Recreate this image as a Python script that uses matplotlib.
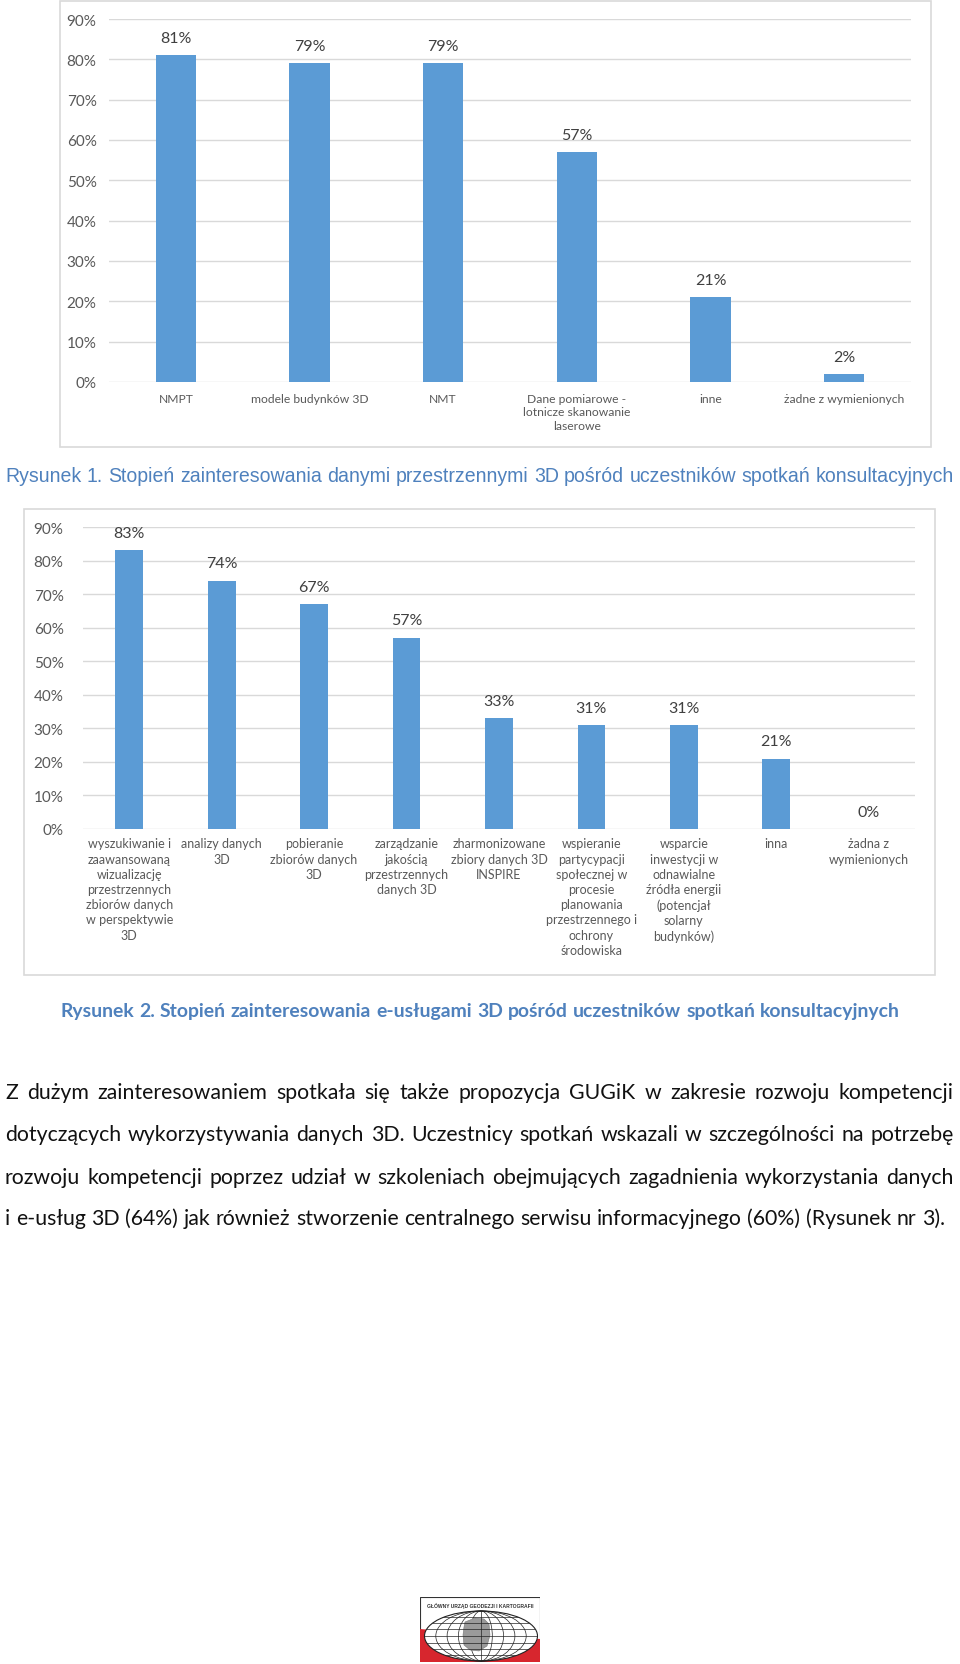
import matplotlib
matplotlib.use("Agg")
import matplotlib.pyplot as plt
from matplotlib.patches import Rectangle, Ellipse, Polygon
import numpy as np

W, H = 960, 1665

# data: chart 1
cats1 = ["NMPT", "modele budynków 3D", "NMT",
         "Dane pomiarowe -\nlotnicze skanowanie\nlaserowe",
         "inne", "żadne z wymienionych"]
vals1 = [0.81, 0.79, 0.79, 0.57, 0.21, 0.02]

# data: chart 2
cats2 = ["wyszukiwanie i\nzaawansowaną\nwizualizację\nprzestrzennych\nzbiorów danych\nw perspektywie\n3D",
         "analizy danych\n3D",
         "pobieranie\nzbiorów danych\n3D",
         "zarządzanie\njakością\nprzestrzennych\ndanych 3D",
         "zharmonizowane\nzbiory danych 3D\nINSPIRE",
         "wspieranie\npartycypacji\nspołecznej w\nprocesie\nplanowania\nprzestrzennego i\nochrony\nśrodowiska",
         "wsparcie\ninwestycji w\nodnawialne\nźródła energii\n(potencjał\nsolarny\nbudynków)",
         "inna",
         "żadna z\nwymienionych"]
vals2 = [0.83, 0.74, 0.67, 0.57, 0.33, 0.31, 0.31, 0.21, 0.0]

yticks = [0.0, 0.1, 0.2, 0.3, 0.4, 0.5, 0.6, 0.7, 0.8, 0.9]
ytick_labels = ["0%", "10%", "20%", "30%", "40%", "50%", "60%", "70%", "80%", "90%"]

caption1 = "Rysunek 1. Stopień zainteresowania danymi przestrzennymi 3D pośród uczestników spotkań konsultacyjnych"
caption2 = "Rysunek 2. Stopień zainteresowania e-usługami 3D pośród uczestników spotkań konsultacyjnych"
paragraph = [
    "Z dużym zainteresowaniem spotkała się także propozycja GUGiK w zakresie rozwoju kompetencji",
    "dotyczących wykorzystywania danych 3D. Uczestnicy spotkań wskazali w szczególności na potrzebę",
    "rozwoju kompetencji poprzez udział w szkoleniach obejmujących zagadnienia wykorzystania danych",
    "i e-usług 3D (64%) jak również stworzenie centralnego serwisu informacyjnego (60%) (Rysunek nr 3).",
]
logo_text = "GŁÓWNY URZĄD GEODEZJI I KARTOGRAFII"

BAR = "#5B9BD5"
GRID = "#D9D9D9"
TICK = "#595959"
LABEL = "#404040"
BLUE = "#4F81BD"
FONT = ["Lato", "DejaVu Sans"]

fig = plt.figure(figsize=(W / 100, H / 100), dpi=100)
fig.patch.set_facecolor("white")
r = fig.canvas.get_renderer()


def box(x0, y0, x1, y1):
    return [x0 / W, 1 - y1 / H, (x1 - x0) / W, (y1 - y0) / H]


def frame(x0, y0, x1, y1):
    fig.add_artist(Rectangle((x0 / W, 1 - y1 / H), (x1 - x0) / W, (y1 - y0) / H,
                             transform=fig.transFigure, fill=False, ec=GRID, lw=1.2))


def bar_chart(rect, cats, vals, ypad, cat_size, cat_ls, xpad):
    ax = fig.add_axes(box(*rect))
    x = np.arange(len(cats))
    ax.bar(x, vals, width=0.3, color=BAR, zorder=3)
    ax.set_xlim(-0.5, len(cats) - 0.5)
    ax.set_ylim(0, 0.9)
    ax.set_yticks(yticks)
    ax.set_yticklabels(ytick_labels, family=FONT, fontsize=11, color=TICK)
    ax.yaxis.grid(True, color=GRID, lw=1, zorder=0)
    for sp in ax.spines.values():
        sp.set_visible(False)
    ax.set_xticks(x)
    ax.set_xticklabels(cats, family=FONT, fontsize=cat_size, color=TICK,
                       linespacing=cat_ls, va="top")
    ax.tick_params(axis="both", length=0)
    ax.tick_params(axis="y", pad=ypad)
    ax.tick_params(axis="x", pad=xpad)
    for xi, v in zip(x, vals):
        ax.annotate(f"{v * 100:.0f}%", (xi, v), xytext=(0, 12.5), textcoords="offset points",
                    ha="center", va="center", family=FONT, fontsize=11.5, color=LABEL)
    return ax


def fit_size(s, target, family, weight="normal"):
    t = fig.text(0, 0, s, fontsize=10, family=family, weight=weight)
    w = t.get_window_extent(r).width
    t.remove()
    return 10 * target / w


def put_line(s, x0, x1, y, size, family, color="black", weight="normal", justify=True):
    words = s.split()
    arts = [fig.text(0, 1 - y / H, wd, fontsize=size, family=family, color=color,
                     weight=weight, va="center", ha="left") for wd in words]
    widths = [a.get_window_extent(r).width for a in arts]
    if justify and len(words) > 1:
        gap = (x1 - x0 - sum(widths)) / (len(words) - 1)
    else:
        sp = fig.text(0, 0, "a a", fontsize=size, family=family)
        sp2 = fig.text(0, 0, "aa", fontsize=size, family=family)
        gap = sp.get_window_extent(r).width - sp2.get_window_extent(r).width
        sp.remove()
        sp2.remove()
    xx = x0
    for a, w in zip(arts, widths):
        a.set_x(xx / W)
        xx += w + gap


# chart 1
frame(60, 2, 931, 448)
bar_chart((109, 20, 911, 383), cats1, vals1, 9, 8.7, 1.25, 8)

# caption 1
cap_font = ["Liberation Sans", "DejaVu Sans"]
put_line(caption1, 5, 954, 477, fit_size(caption1, 949, cap_font), cap_font, color=BLUE)

# chart 2
frame(24, 510, 935, 976)
bar_chart((83, 528, 915, 830), cats2, vals2, 14, 9, 1.32, 6)

# caption 2
put_line(caption2, 60, 900, 1012, fit_size(caption2, 840, FONT, "bold"), FONT,
         color=BLUE, weight="bold")

# paragraph
psize = fit_size(paragraph[-1], 938, FONT)
for i, (line, y) in enumerate(zip(paragraph, [1093, 1135, 1178, 1219])):
    put_line(line, 5, 954, y, psize, FONT, color="#111111", justify=(i < len(paragraph) - 1))

# logo
lax = fig.add_axes(box(420, 1598, 540, 1663))
lax.set_xlim(0, 120)
lax.set_ylim(0, 65)
lax.axis("off")
lax.add_patch(Rectangle((0, 0), 120, 65, fc="white", ec="#333333", lw=0.8))
lax.add_patch(Polygon([(0, 0), (120, 0), (120, 23), (0, 33)], fc="#D7262E", ec="none"))
globe = Ellipse((61, 26), 113, 50, fc="white", ec="#222222", lw=0.8)
lax.add_patch(globe)
for k in [0.2, 0.4, 0.6, 0.8]:
    lax.add_patch(Ellipse((61, 26), 113 * k, 50, fill=False, ec="#222222", lw=0.5))
lax.plot([61, 61], [1, 51], color="#222222", lw=0.5)
for yy in [7, 13, 19, 26, 33, 39, 45]:
    ln, = lax.plot([0, 120], [yy, yy], color="#222222", lw=0.5)
    ln.set_clip_path(globe)
poland = [(45, 40), (55, 44), (64, 43), (69, 38), (70, 27), (67, 16), (59, 11),
          (50, 12), (44, 17), (43, 27), (44, 35)]
lax.add_patch(Polygon(poland, fc="#9A9A9A", ec="#777777", lw=0.4))
logo_font = ["Liberation Sans Narrow", "Liberation Sans", "DejaVu Sans"]
lsize = fit_size(logo_text, 108, logo_font, "bold")
lax.text(60, 57.5, logo_text, ha="center", va="center", fontsize=lsize, weight="bold",
         family=logo_font, color="#333333")

fig.savefig("out.png", dpi=100, facecolor="white")
